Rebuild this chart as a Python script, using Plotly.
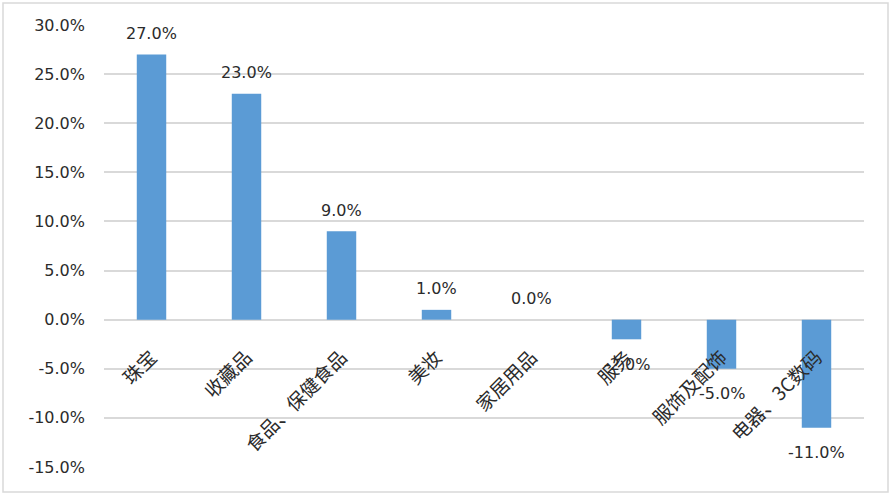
import plotly.graph_objects as go

categories = ["珠宝", "收藏品", "食品、保健食品", "美妆", "家居用品", "服务", "服饰及配饰", "电器、3C数码"]
values = [27.0, 23.0, 9.0, 1.0, 0.0, -2.0, -5.0, -11.0]
y_ticks = [30, 25, 20, 15, 10, 5, 0, -5, -10, -15]
y_tick_labels = [f"{v:.1f}%" for v in y_ticks]

W, H = 892, 502
ml, mr, mt, mb = 104, 28, 25, 35
pw, ph = W - ml - mr, H - mt - mb
ymin, ymax = -15, 30

fig = go.Figure()
fig.add_trace(go.Bar(
    x=categories, y=values,
    marker=dict(color="#5B9BD5", line=dict(width=0)),
    cliponaxis=False,
    width=0.31,
    hoverinfo="skip",
))

# data labels
for c, v in zip(categories, values):
    fig.add_annotation(
        x=c, y=v, text=f"{v:.1f}%", showarrow=False,
        xanchor="center", yanchor="middle",
        yshift=21 if v >= 0 else -25,
        font=dict(family="DejaVu Sans", size=16, color="#2b2b2b"),
    )

fig.update_layout(
    width=W, height=H,
    margin=dict(l=ml, r=mr, t=mt, b=mb),
    paper_bgcolor="white", plot_bgcolor="white",
    showlegend=False,
    font=dict(family="DejaVu Sans", color="#2b2b2b"),
    xaxis=dict(
        type="category",
        anchor="free",
        position=(0 - ymin) / (ymax - ymin),
        tickangle=-45,
        tickfont=dict(family="Noto Sans CJK SC", size=19, color="#2b2b2b"),
        showgrid=False, showline=False, ticks="",
        ticklabelstandoff=22,
        automargin=False,
    ),
    yaxis=dict(
        range=[ymin, ymax],
        tickvals=y_ticks, ticktext=y_tick_labels,
        tickfont=dict(family="DejaVu Sans", size=16, color="#2b2b2b"),
        showgrid=True, gridcolor="#D9D9D9", gridwidth=1.5,
        zeroline=True, zerolinecolor="#D9D9D9", zerolinewidth=1.5,
        showline=False, ticks="",
        ticklabelstandoff=18,
        automargin=False,
    ),
)

# outer chart frame
fig.add_shape(
    type="rect", xref="paper", yref="paper",
    x0=(3 - ml) / pw, x1=(888 - ml) / pw,
    y0=(H - mb - 492) / ph, y1=(H - mb - 3) / ph,
    line=dict(color="#D9D9D9", width=1.5), fillcolor="rgba(0,0,0,0)",
    layer="below",
)

fig.write_html("out.html", config={"displayModeBar": False},
               post_script="document.body.style.margin='0';")
